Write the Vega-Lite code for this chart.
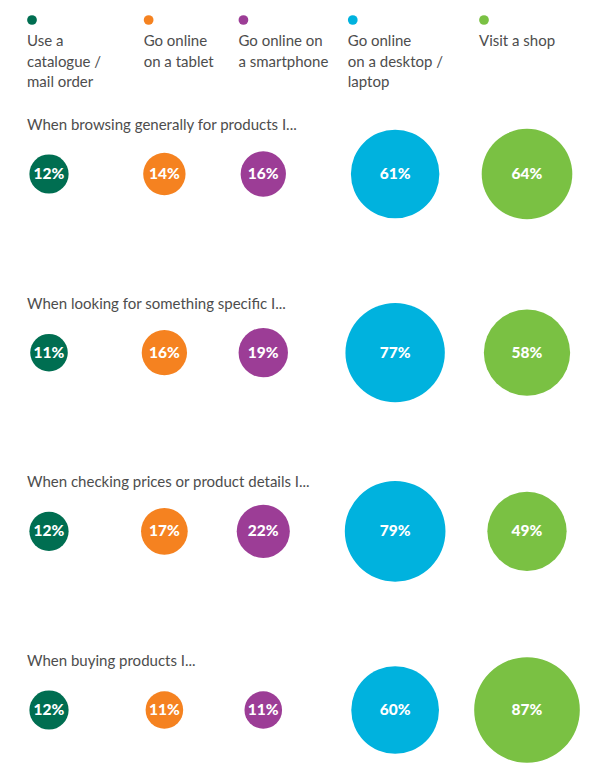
{
  "$schema": "https://vega.github.io/schema/vega-lite/v6.json",
  "width": 599,
  "height": 776,
  "padding": 0,
  "autosize": {"type": "none"},
  "background": "white",
  "config": {"view": {"stroke": null}, "font": "Lato"},
  "datasets": {
    "bubbles": [
      {"question": "browse", "channel": "catalogue", "share": 0.12},
      {"question": "browse", "channel": "tablet", "share": 0.14},
      {"question": "browse", "channel": "smartphone", "share": 0.16},
      {"question": "browse", "channel": "desktop", "share": 0.61},
      {"question": "browse", "channel": "shop", "share": 0.64},
      {"question": "specific", "channel": "catalogue", "share": 0.11},
      {"question": "specific", "channel": "tablet", "share": 0.16},
      {"question": "specific", "channel": "smartphone", "share": 0.19},
      {"question": "specific", "channel": "desktop", "share": 0.77},
      {"question": "specific", "channel": "shop", "share": 0.58},
      {"question": "prices", "channel": "catalogue", "share": 0.12},
      {"question": "prices", "channel": "tablet", "share": 0.17},
      {"question": "prices", "channel": "smartphone", "share": 0.22},
      {"question": "prices", "channel": "desktop", "share": 0.79},
      {"question": "prices", "channel": "shop", "share": 0.49},
      {"question": "buying", "channel": "catalogue", "share": 0.12},
      {"question": "buying", "channel": "tablet", "share": 0.11},
      {"question": "buying", "channel": "smartphone", "share": 0.11},
      {"question": "buying", "channel": "desktop", "share": 0.60},
      {"question": "buying", "channel": "shop", "share": 0.87}
    ],
    "titles": [
      {"question": "browse", "title": "When browsing generally for products I..."},
      {"question": "specific", "title": "When looking for something specific I..."},
      {"question": "prices", "title": "When checking prices or product details I..."},
      {"question": "buying", "title": "When buying products I..."}
    ],
    "legend": [
      {"channel": "catalogue", "label": "Use a\ncatalogue /\nmail order"},
      {"channel": "tablet", "label": "Go online\non a tablet"},
      {"channel": "smartphone", "label": "Go online on\na smartphone"},
      {"channel": "desktop", "label": "Go online\non a desktop /\nlaptop"},
      {"channel": "shop", "label": "Visit a shop"}
    ]
  },
  "resolve": {"scale": {"x": "independent", "y": "independent", "color": "shared"}},
  "layer": [
    {
      "resolve": {"scale": {"x": "shared", "y": "shared"}},
      "layer": [
        {
          "data": {"name": "bubbles"},
          "mark": {"type": "circle", "opacity": 1},
          "encoding": {
            "x": {"field": "channel", "type": "nominal", "axis": null,
                  "scale": {"type": "point", "padding": 0, "range": [49, 527],
                            "domain": ["catalogue", "g1", "g2", "g3", "g4", "g5", "g6", "tablet", "g7", "g8", "g9", "g10", "g11", "smartphone", "g12", "g13", "g14", "g15", "g16", "g17", "g18", "desktop", "g19", "g20", "g21", "g22", "g23", "g24", "g25", "shop"]}},
            "y": {"field": "question", "type": "nominal", "axis": null,
                  "scale": {"type": "point", "padding": 0, "range": [174, 710], "domain": ["browse", "specific", "prices", "buying"]}},
            "size": {"field": "share", "type": "quantitative", "legend": null,
                     "scale": {"type": "linear", "domain": [0, 1], "range": [0, 12830], "zero": true}},
            "color": {"field": "channel", "type": "nominal", "legend": null,
                      "scale": {"domain": ["catalogue", "tablet", "smartphone", "desktop", "shop"], "range": ["#006E51", "#F58220", "#9C3D96", "#00B2DE", "#7AC143"]}}
          }
        },
        {
          "data": {"name": "bubbles"},
          "mark": {"type": "text", "color": "white", "fontWeight": 900, "fontSize": 15.5, "align": "center", "baseline": "middle"},
          "encoding": {
            "x": {"field": "channel", "type": "nominal", "axis": null},
            "y": {"field": "question", "type": "nominal", "axis": null},
            "text": {"field": "share", "type": "quantitative", "format": ".0%"}
          }
        },
        {
          "data": {"name": "titles"},
          "mark": {"type": "text", "color": "#4D4D4D", "fontSize": 15, "align": "left", "baseline": "middle", "dx": -22, "dy": -49},
          "encoding": {
            "x": {"datum": "catalogue", "type": "nominal", "axis": null},
            "y": {"field": "question", "type": "nominal", "axis": null},
            "text": {"field": "title", "type": "nominal"}
          }
        }
      ]
    },
    {
      "resolve": {"scale": {"x": "shared", "y": "shared"}},
      "layer": [
        {
          "data": {"name": "legend"},
          "mark": {"type": "circle", "opacity": 1, "size": 95, "xOffset": 5},
          "encoding": {
            "x": {"field": "channel", "type": "nominal", "axis": null,
                  "scale": {"type": "point", "padding": 0, "range": [27, 479],
                            "domain": ["catalogue", "s1", "s2", "s3", "s4", "s5", "s6", "s7", "s8", "s9", "s10", "s11", "s12", "s13", "s14", "s15", "tablet", "s16", "s17", "s18", "s19", "s20", "s21", "s22", "s23", "s24", "s25", "s26", "s27", "smartphone", "s28", "s29", "s30", "s31", "s32", "s33", "s34", "s35", "s36", "s37", "s38", "s39", "s40", "s41", "desktop", "s42", "s43", "s44", "s45", "s46", "s47", "s48", "s49", "s50", "s51", "s52", "s53", "s54", "s55", "s56", "s57", "s58", "shop"]}},
            "y": {"datum": "legend", "type": "nominal", "axis": null,
                  "scale": {"type": "point", "padding": 0, "range": [20, 20], "domain": ["legend"]}},
            "color": {"field": "channel", "type": "nominal", "legend": null}
          }
        },
        {
          "data": {"name": "legend"},
          "mark": {"type": "text", "color": "#4D4D4D", "fontSize": 15, "align": "left", "baseline": "middle", "lineBreak": "\n", "lineHeight": 20.5, "dy": 21},
          "encoding": {
            "x": {"field": "channel", "type": "nominal", "axis": null},
            "y": {"datum": "legend", "type": "nominal", "axis": null},
            "text": {"field": "label", "type": "nominal"}
          }
        }
      ]
    }
  ]
}
